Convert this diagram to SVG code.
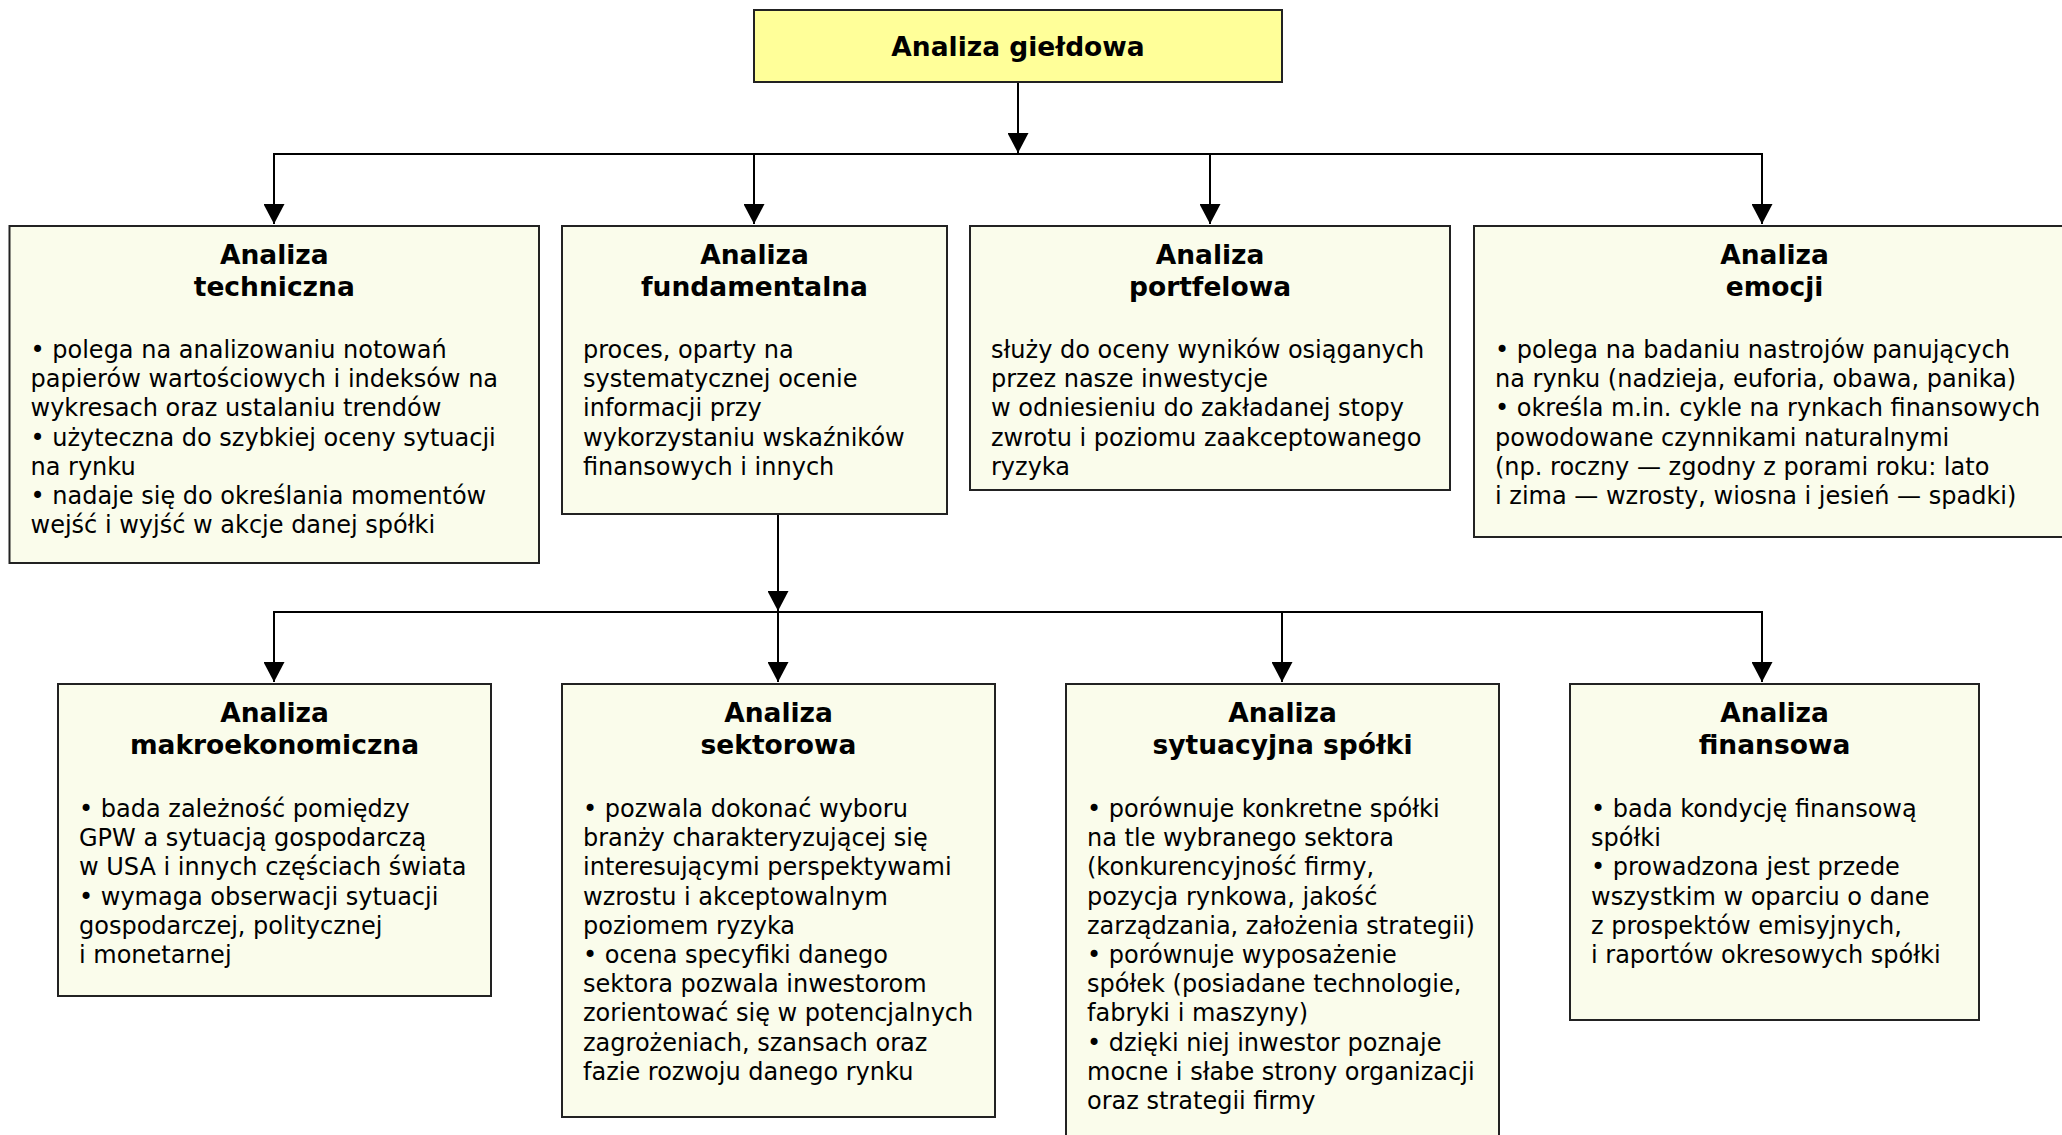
<svg xmlns="http://www.w3.org/2000/svg" width="2062" height="1135" viewBox="0 0 2062 1135">
<style>
.box{fill:#FAFCEB;stroke:#222;stroke-width:2}
.top{fill:#FFFF99;stroke:#222;stroke-width:2}
.hd{font-family:"DejaVu Sans",Verdana,sans-serif;font-weight:bold;font-size:26.5px;fill:#000;text-anchor:middle}
.bd{font-family:"DejaVu Sans",Verdana,sans-serif;font-size:24px;fill:#000}
.conn{fill:none;stroke:#000;stroke-width:2}
</style>
<defs>
<marker id="arr" markerUnits="userSpaceOnUse" markerWidth="20" markerHeight="21" refX="20" refY="10.5" orient="auto">
<path d="M0,0 L20,10.5 L0,21 z" fill="#000"/>
</marker>
</defs>
<rect width="2062" height="1135" fill="#fff"/>
<g id="connectors">
<path class="conn" d="M1018,82 V153" marker-end="url(#arr)"/>
<path class="conn" d="M274,224 V154 H1762 V224"/>
<path class="conn" d="M274,154 V224" marker-end="url(#arr)"/>
<path class="conn" d="M754,154 V224" marker-end="url(#arr)"/>
<path class="conn" d="M1210,154 V224" marker-end="url(#arr)"/>
<path class="conn" d="M1762,154 V224" marker-end="url(#arr)"/>
<path class="conn" d="M778,514 V611" marker-end="url(#arr)"/>
<path class="conn" d="M274,682 V612 H1762 V682"/>
<path class="conn" d="M274,612 V682" marker-end="url(#arr)"/>
<path class="conn" d="M778,612 V682" marker-end="url(#arr)"/>
<path class="conn" d="M1282,612 V682" marker-end="url(#arr)"/>
<path class="conn" d="M1762,612 V682" marker-end="url(#arr)"/>
</g>
<g id="n0">
<rect class="top" x="754" y="10" width="528" height="72"/>
<text class="hd" x="1018" y="56">Analiza giełdowa</text>
</g>
<g id="n1">
<rect class="box" x="9.5" y="226" width="529.5" height="337"/>
<text class="hd" x="274.25" y="264">Analiza<tspan x="274.25" dy="32">techniczna</tspan></text>
<text class="bd" x="30.5" y="358"><tspan x="30.5">• polega na analizowaniu notowań</tspan><tspan x="30.5" dy="29.2">papierów wartościowych i indeksów na</tspan><tspan x="30.5" dy="29.2">wykresach oraz ustalaniu trendów</tspan><tspan x="30.5" dy="29.2">• użyteczna do szybkiej oceny sytuacji</tspan><tspan x="30.5" dy="29.2">na rynku</tspan><tspan x="30.5" dy="29.2">• nadaje się do określania momentów</tspan><tspan x="30.5" dy="29.2">wejść i wyjść w akcje danej spółki</tspan></text>
</g>
<g id="n2">
<rect class="box" x="562" y="226" width="385" height="288"/>
<text class="hd" x="754.5" y="264">Analiza<tspan x="754.5" dy="32">fundamentalna</tspan></text>
<text class="bd" x="583" y="358"><tspan x="583">proces, oparty na</tspan><tspan x="583" dy="29.2">systematycznej ocenie</tspan><tspan x="583" dy="29.2">informacji przy</tspan><tspan x="583" dy="29.2">wykorzystaniu wskaźników</tspan><tspan x="583" dy="29.2">finansowych i innych</tspan></text>
</g>
<g id="n3">
<rect class="box" x="970" y="226" width="480" height="264"/>
<text class="hd" x="1210" y="264">Analiza<tspan x="1210" dy="32">portfelowa</tspan></text>
<text class="bd" x="991" y="358"><tspan x="991">służy do oceny wyników osiąganych</tspan><tspan x="991" dy="29.2">przez nasze inwestycje</tspan><tspan x="991" dy="29.2">w odniesieniu do zakładanej stopy</tspan><tspan x="991" dy="29.2">zwrotu i poziomu zaakceptowanego</tspan><tspan x="991" dy="29.2">ryzyka</tspan></text>
</g>
<g id="n4">
<rect class="box" x="1474" y="226" width="601" height="311"/>
<text class="hd" x="1774.5" y="264">Analiza<tspan x="1774.5" dy="32">emocji</tspan></text>
<text class="bd" x="1495" y="358"><tspan x="1495">• polega na badaniu nastrojów panujących</tspan><tspan x="1495" dy="29.2">na rynku (nadzieja, euforia, obawa, panika)</tspan><tspan x="1495" dy="29.2">• określa m.in. cykle na rynkach finansowych</tspan><tspan x="1495" dy="29.2">powodowane czynnikami naturalnymi</tspan><tspan x="1495" dy="29.2">(np. roczny — zgodny z porami roku: lato</tspan><tspan x="1495" dy="29.2">i zima — wzrosty, wiosna i jesień — spadki)</tspan></text>
</g>
<g id="n5">
<rect class="box" x="58" y="684" width="433" height="312"/>
<text class="hd" x="274.5" y="722">Analiza<tspan x="274.5" dy="32">makroekonomiczna</tspan></text>
<text class="bd" x="79" y="817"><tspan x="79">• bada zależność pomiędzy</tspan><tspan x="79" dy="29.2">GPW a sytuacją gospodarczą</tspan><tspan x="79" dy="29.2">w USA i innych częściach świata</tspan><tspan x="79" dy="29.2">• wymaga obserwacji sytuacji</tspan><tspan x="79" dy="29.2">gospodarczej, politycznej</tspan><tspan x="79" dy="29.2">i monetarnej</tspan></text>
</g>
<g id="n6">
<rect class="box" x="562" y="684" width="433" height="433"/>
<text class="hd" x="778.5" y="722">Analiza<tspan x="778.5" dy="32">sektorowa</tspan></text>
<text class="bd" x="583" y="817"><tspan x="583">• pozwala dokonać wyboru</tspan><tspan x="583" dy="29.2">branży charakteryzującej się</tspan><tspan x="583" dy="29.2">interesującymi perspektywami</tspan><tspan x="583" dy="29.2">wzrostu i akceptowalnym</tspan><tspan x="583" dy="29.2">poziomem ryzyka</tspan><tspan x="583" dy="29.2">• ocena specyfiki danego</tspan><tspan x="583" dy="29.2">sektora pozwala inwestorom</tspan><tspan x="583" dy="29.2">zorientować się w potencjalnych</tspan><tspan x="583" dy="29.2">zagrożeniach, szansach oraz</tspan><tspan x="583" dy="29.2">fazie rozwoju danego rynku</tspan></text>
</g>
<g id="n7">
<rect class="box" x="1066" y="684" width="433" height="470"/>
<text class="hd" x="1282.5" y="722">Analiza<tspan x="1282.5" dy="32">sytuacyjna spółki</tspan></text>
<text class="bd" x="1087" y="817"><tspan x="1087">• porównuje konkretne spółki</tspan><tspan x="1087" dy="29.2">na tle wybranego sektora</tspan><tspan x="1087" dy="29.2">(konkurencyjność firmy,</tspan><tspan x="1087" dy="29.2">pozycja rynkowa, jakość</tspan><tspan x="1087" dy="29.2">zarządzania, założenia strategii)</tspan><tspan x="1087" dy="29.2">• porównuje wyposażenie</tspan><tspan x="1087" dy="29.2">spółek (posiadane technologie,</tspan><tspan x="1087" dy="29.2">fabryki i maszyny)</tspan><tspan x="1087" dy="29.2">• dzięki niej inwestor poznaje</tspan><tspan x="1087" dy="29.2">mocne i słabe strony organizacji</tspan><tspan x="1087" dy="29.2">oraz strategii firmy</tspan></text>
</g>
<g id="n8">
<rect class="box" x="1570" y="684" width="409" height="336"/>
<text class="hd" x="1774.5" y="722">Analiza<tspan x="1774.5" dy="32">finansowa</tspan></text>
<text class="bd" x="1591" y="817"><tspan x="1591">• bada kondycję finansową</tspan><tspan x="1591" dy="29.2">spółki</tspan><tspan x="1591" dy="29.2">• prowadzona jest przede</tspan><tspan x="1591" dy="29.2">wszystkim w oparciu o dane</tspan><tspan x="1591" dy="29.2">z prospektów emisyjnych,</tspan><tspan x="1591" dy="29.2">i raportów okresowych spółki</tspan></text>
</g>
</svg>
